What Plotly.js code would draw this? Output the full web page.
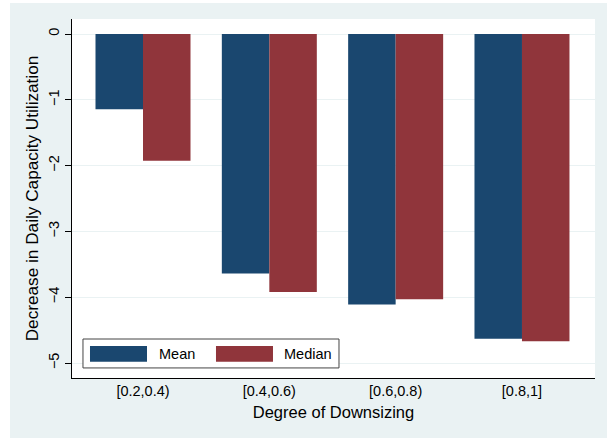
<!DOCTYPE html>
<html lang="en">
<head>
    <meta charset="UTF-8">
    <title>Capacity utilization by downsizing</title>
    <script src="https://cdn.plot.ly/plotly-3.0.1.min.js"></script>
    <style>
        body { margin: 0; background: #ffffff; }
        #chart { position: absolute; left: 10px; top: 3px; width: 597px; height: 435px; }
    </style>
</head>
<body>

<div id="chart"></div>

<script>
    // bins of downsizing degree
    let categories = ["[0.2,0.4)", "[0.4,0.6)", "[0.6,0.8)", "[0.8,1]"];

    let meanValues = [-1.145, -3.64, -4.11, -4.63];
    let medianValues = [-1.925, -3.92, -4.03, -4.67];

    let yTickVals = [0, -1, -2, -3, -4, -5];
    let yTickText = ["0", "\u22121", "\u22122", "\u22123", "\u22124", "\u22125"];

    let navy = "#1a476f";
    let maroon = "#90353b";
    let bg = "#eaf2f3";
    let font = "Liberation Sans, Arial, sans-serif";

    let trace1 = {
        x: categories,
        y: meanValues,
        type: 'bar',
        name: 'Mean',
        marker: {color: navy}
    };

    let trace2 = {
        x: categories,
        y: medianValues,
        type: 'bar',
        name: 'Median',
        marker: {color: maroon}
    };

    // legend drawn by hand so the keys are wide boxes like the original
    let shapes = [
        {type: 'rect', xref: 'paper', yref: 'paper', x0: 0.021, x1: 0.5105, y0: 0.028, y1: 0.1086,
            fillcolor: '#ffffff', line: {color: '#444444', width: 1}},
        {type: 'rect', xref: 'paper', yref: 'paper', x0: 0.0344, x1: 0.1434, y0: 0.0454, y1: 0.0891,
            fillcolor: navy, line: {width: 0}},
        {type: 'rect', xref: 'paper', yref: 'paper', x0: 0.2753, x1: 0.3843, y0: 0.0454, y1: 0.0891,
            fillcolor: maroon, line: {width: 0}}
    ];

    let annotations = [
        {text: 'Mean', xref: 'paper', yref: 'paper', x: 0.162, y: 0.068, xanchor: 'left', yanchor: 'middle',
            showarrow: false, font: {family: font, size: 14.5, color: '#000000'}},
        {text: 'Median', xref: 'paper', yref: 'paper', x: 0.401, y: 0.068, xanchor: 'left', yanchor: 'middle',
            showarrow: false, font: {family: font, size: 14.5, color: '#000000'}}
    ];

    let layout = {
        width: 597,
        height: 435,
        paper_bgcolor: bg,
        plot_bgcolor: '#ffffff',
        margin: {l: 62, r: 12, t: 16, b: 60},
        barmode: 'group',
        bargap: 0.248,
        bargroupgap: 0,
        showlegend: false,
        font: {family: font, size: 14.5, color: '#000000'},
        xaxis: {
            range: [-0.562, 3.578],
            showline: true,
            linecolor: '#000000',
            linewidth: 1,
            ticks: '',
            showgrid: false,
            title: {text: 'Degree of Downsizing', font: {size: 16.5}, standoff: 8}
        },
        yaxis: {
            range: [-5.228, 0.228],
            tickvals: yTickVals,
            ticktext: yTickText,
            tickangle: -90,
            ticks: 'outside',
            ticklen: 6,
            tickcolor: '#000000',
            showline: true,
            linecolor: '#000000',
            linewidth: 1,
            showgrid: true,
            gridcolor: bg,
            zeroline: false,
            title: {text: 'Decrease in Daily Capacity Utilization', font: {size: 17.2}, standoff: 3}
        },
        shapes: shapes,
        annotations: annotations
    };

    Plotly.newPlot('chart', [trace1, trace2], layout, {displayModeBar: false, staticPlot: true});
</script>

</body>
</html>
